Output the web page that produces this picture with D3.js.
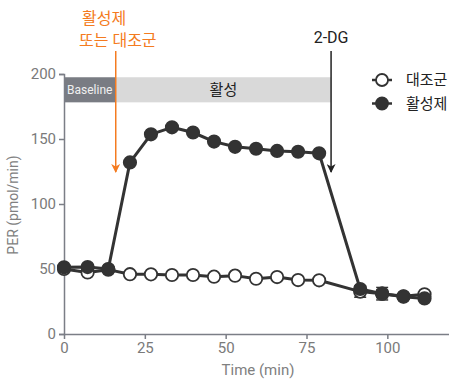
<!DOCTYPE html>
<html>
<head>
<meta charset="utf-8">
<script src="https://cdn.jsdelivr.net/npm/d3@7"></script>
<style>
  html, body { margin: 0; padding: 0; background: #fff; }
  svg { display: block; font-family: Roboto, "Noto Sans CJK KR", sans-serif; }
</style>
</head>
<body>
<svg id="chart" width="449" height="379"></svg>
<script>
// Measurement times (min)
const times = [0, 7.3, 13.7, 20.4, 26.9, 33.4, 39.9, 46.4, 52.9, 59.4, 65.9, 72.4, 78.9, 91.6, 98.4, 105, 111.5];
// PER (pmol/min)
const activator = [51.3, 51.5, 50, 132, 153.6, 159, 155, 148, 144, 142.5, 140.8, 140.2, 139, 34.6, 31, 28.7, 27.4];
const activatorErr = [0, 0, 0, 0, 0, 0, 0, 0, 0, 0, 0, 0, 0, 2, 4.8, 1.5, 1.5];
const control = [50, 47.3, 49.5, 46, 45.9, 45.4, 45.4, 44.1, 44.9, 42.5, 43.8, 41.5, 41.3, 32.6, 31, 29, 30.5];
const controlErr = [0, 0, 0, 0, 0, 0, 0, 0, 0, 0, 0, 0, 0, 4.3, 3, 1, 1];
const yTicks = [0, 50, 100, 150, 200];
const xTicks = [0, 25, 50, 75, 100];
const seriesNames = ["대조군", "활성제"];
// Treatment phases (min)
const phases = [
  { label: "Baseline", start: 0, end: 16 },
  { label: "활성", start: 16, end: 82.6 }
];
const injections = [
  { lines: ["활성제", "또는 대조군"], time: 16 },
  { lines: ["2-DG"], time: 82.6 }
];

const svg = d3.select("#chart");
const x = d3.scaleLinear().domain([0, 120]).range([64, 452]);
const y = d3.scaleLinear().domain([0, 200]).range([334, 74]);

const axisColor = "#7b7e86";
const ink = "#333333";

// Phase bands
const bandTop = 197.5, bandBottom = 178.2;
const bands = svg.append("g");
bands.selectAll("rect").data(phases).join("rect")
  .attr("x", d => x(d.start))
  .attr("width", d => x(d.end) - x(d.start))
  .attr("y", y(bandTop))
  .attr("height", y(bandBottom) - y(bandTop))
  .attr("fill", (d, i) => i === 0 ? "#797c83" : "#d9d9d9");
bands.selectAll("text").data(phases).join("text")
  .attr("x", (d, i) => i === 0 ? x(d.start) + 3 : (x(d.start) + x(d.end)) / 2)
  .attr("y", y((bandTop + bandBottom) / 2))
  .attr("dy", "0.35em")
  .attr("text-anchor", (d, i) => i === 0 ? "start" : "middle")
  .attr("font-size", (d, i) => i === 0 ? 12 : 15)
  .attr("fill", (d, i) => i === 0 ? "#f0f0f0" : "#222")
  .text(d => d.label);

// Axes
const yAxis = svg.append("g")
  .attr("transform", `translate(${x(0)},0)`)
  .call(d3.axisLeft(y).tickValues(yTicks).tickSize(5).tickSizeOuter(5).tickPadding(3));
const xAxis = svg.append("g")
  .attr("transform", `translate(0,${y(0)})`)
  .call(d3.axisBottom(x).tickValues(xTicks).tickSize(5).tickSizeOuter(0).tickPadding(3));
[xAxis, yAxis].forEach(g => {
  g.selectAll("path, line").attr("stroke", axisColor).attr("stroke-width", 1.5);
  g.selectAll("text").attr("fill", "#7a7a7a").attr("font-size", 15)
    .attr("font-family", "Roboto, sans-serif");
});

svg.append("text")
  .attr("transform", `translate(18,${(y(0) + y(200)) / 2 + 1}) rotate(-90)`)
  .attr("text-anchor", "middle")
  .attr("font-size", 14)
  .attr("fill", "#808080")
  .text("PER (pmol/min)");
svg.append("text")
  .attr("x", (x(0) + x(120)) / 2)
  .attr("y", 375)
  .attr("text-anchor", "middle")
  .attr("font-size", 15)
  .attr("fill", "#808080")
  .text("Time (min)");

// Injection arrows
const defs = svg.append("defs");
[["arrow-orange", "#f47b20"], ["arrow-black", "#222"]].forEach(([id, c]) => {
  defs.append("marker")
    .attr("id", id).attr("viewBox", "0 0 10 10")
    .attr("refX", 9).attr("refY", 5)
    .attr("markerWidth", 11).attr("markerHeight", 9)
    .attr("markerUnits", "userSpaceOnUse")
    .attr("orient", "auto")
    .append("path").attr("d", "M0,0 L10,5 L0,10 L3,5 Z").attr("fill", c);
});
injections.forEach((inj, i) => {
  const col = i === 0 ? "#f47b20" : "#222";
  svg.append("line")
    .attr("x1", x(inj.time)).attr("x2", x(inj.time))
    .attr("y1", 51).attr("y2", 172)
    .attr("stroke", col).attr("stroke-width", 1.5)
    .attr("marker-end", `url(#${i === 0 ? "arrow-orange" : "arrow-black"})`);
  const t = svg.append("text")
    .attr("font-size", 16)
    .attr("fill", col);
  if (i === 0) {
    t.append("tspan").attr("x", 82).attr("y", 24).text(inj.lines[0]);
    t.append("tspan").attr("x", 79).attr("y", 46).text(inj.lines[1]);
  } else {
    t.attr("text-anchor", "middle").attr("x", x(inj.time)).attr("y", 43)
      .attr("font-family", "Roboto, sans-serif").text(inj.lines[0]);
  }
});

// Series
const series = [
  { name: seriesNames[0], values: control, err: controlErr, fill: "#fff" },
  { name: seriesNames[1], values: activator, err: activatorErr, fill: ink }
];
const line = d3.line().x(d => x(d.t)).y(d => y(d.v));
series.forEach(s => {
  const pts = times.map((t, i) => ({ t, v: s.values[i], e: s.err[i] }));
  const g = svg.append("g");
  // error bars
  const eb = g.selectAll("g.err").data(pts.filter(p => p.e > 0)).join("g").attr("class", "err");
  eb.append("line")
    .attr("x1", d => x(d.t)).attr("x2", d => x(d.t))
    .attr("y1", d => y(d.v + d.e)).attr("y2", d => y(d.v - d.e))
    .attr("stroke", ink).attr("stroke-width", 1.5);
  [1, -1].forEach(sign => {
    eb.append("line")
      .attr("x1", d => x(d.t) - 6).attr("x2", d => x(d.t) + 6)
      .attr("y1", d => y(d.v + sign * d.e)).attr("y2", d => y(d.v + sign * d.e))
      .attr("stroke", ink).attr("stroke-width", 1.5);
  });
  g.append("path").datum(pts)
    .attr("d", line).attr("fill", "none")
    .attr("stroke", ink).attr("stroke-width", 3).attr("stroke-linejoin", "round");
  g.selectAll("circle").data(pts).join("circle")
    .attr("cx", d => x(d.t)).attr("cy", d => y(d.v))
    .attr("r", 6.2)
    .attr("fill", s.fill).attr("stroke", ink).attr("stroke-width", 1.8);
});

// Legend
const legend = svg.append("g");
series.forEach((s, i) => {
  const ly = 80 + i * 23.5;
  legend.append("line")
    .attr("x1", 372).attr("x2", 392).attr("y1", ly).attr("y2", ly)
    .attr("stroke", ink).attr("stroke-width", 2.5);
  legend.append("circle")
    .attr("cx", 382).attr("cy", ly).attr("r", 6)
    .attr("fill", s.fill).attr("stroke", ink).attr("stroke-width", 1.8);
  legend.append("text")
    .attr("x", 406).attr("y", ly).attr("dy", "0.36em")
    .attr("font-size", 15).attr("fill", "#222")
    .text(s.name);
});
</script>
</body>
</html>
